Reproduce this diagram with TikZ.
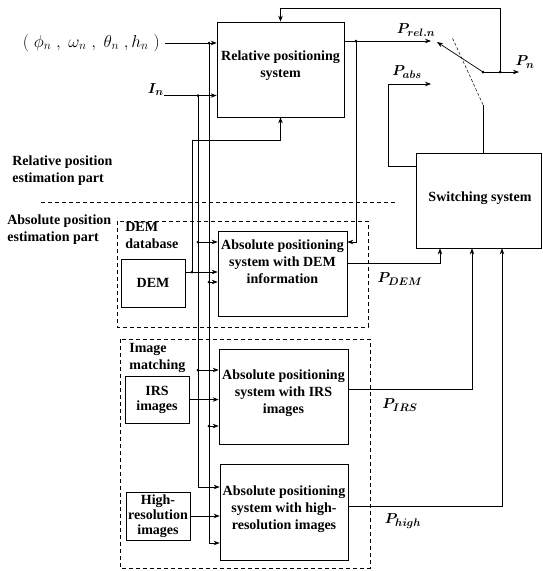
\documentclass[tikz,border=0pt]{standalone}
\usepackage{bm}
\usepackage{fontspec}
\setmainfont{Liberation Serif}
\usetikzlibrary{
  arrows.meta,
  positioning,
  calc
}

\begin{document}
\begin{tikzpicture}[x=1pt,y=-1pt,line width=0.7pt,
    sysbox/.style={draw,inner sep=0pt},
    boxtext/.style={align=center,inner sep=0pt,
      font=\bfseries\fontsize{14}{17}\selectfont},
    srcbox/.style={draw,align=center,inner sep=0pt,minimum width=64pt,
      minimum height=48pt,font=\bfseries\fontsize{14}{15}\selectfont},
    parttext/.style={align=left,inner sep=0pt,anchor=west,
      font=\bfseries\fontsize{14}{17}\selectfont},
    sig/.style={inner sep=0pt,font=\fontsize{15}{17}\selectfont},
    grpbox/.style={draw,dash pattern=on 4pt off 3pt,line width=0.6pt},
    arr/.style={-{Stealth[length=6pt,width=4.5pt]}},
    dot/.style={circle,fill,inner sep=0pt,minimum size=3pt}
  ]
  \useasboundingbox (0,0) rectangle (542,571);

  % systems
  \node[sysbox,minimum width=127pt,minimum height=95pt] (rel) at (280.5,69.5) {};
  \node[boxtext] (reltxt) at (280.5,66) {Relative positioning\\system};
  \node[sysbox,minimum width=125pt,minimum height=95pt] (sw) at (478.5,200.5) {};
  \node[boxtext] (swtxt) at (480,198) {Switching system};
  \node[sysbox,minimum width=129pt,minimum height=85pt] (demsys) at (282.5,273.5) {};
  \node[boxtext] (demtxt) at (282.5,262) {Absolute positioning\\system with DEM\\information};
  \node[sysbox,minimum width=129pt,minimum height=95pt] (irssys) at (283.5,396.5) {};
  \node[boxtext] (irstxt) at (283.5,393) {Absolute positioning\\system with IRS\\images};
  \node[sysbox,minimum width=128pt,minimum height=96pt] (hisys) at (284,512) {};
  \node[boxtext] (hitxt) at (284,509.5) {Absolute positioning\\system with high-\\resolution images};

  % sources
  \node[srcbox] (dem) at (153,283) {DEM};
  \node[srcbox,minimum height=47pt] (irs) at (157,399.5) {IRS\\images};
  \node[srcbox] (hri) at (158,516) {High-\\resolution\\images};

  % groups and parts
  \draw[grpbox] (117,221) rectangle (368,327);
  \draw[grpbox] (120,339) rectangle (370,568);
  \draw[dash pattern=on 4pt off 3pt,line width=0.6pt] (41,202) -- (395,202);
  \node[parttext] (relpart) at (12,171) {Relative position\\estimation part};
  \node[parttext] (abspart) at (7,230) {Absolute position\\estimation part};
  \node[parttext] (demdb) at (125,235) {DEM\\database};
  \node[parttext] (imgm) at (129,357.5) {Image\\matching};

  % inputs
  \node[sig,anchor=east,inner xsep=5pt,font=\fontsize{17}{19}\selectfont] (ang) at (165,43)
    {$(\;\phi_n\;,\;\omega_n\;,\;\theta_n\;,h_n\;)$};
  \node[sig,anchor=base east] (inten) at (164,93) {$\bm{I_n}$};
  \coordinate (phibus) at (209,0);
  \coordinate (inbus) at (198,0);
  \coordinate (dembus) at (192,0);
  \coordinate (relbus) at (356,0);

  \draw[arr] (ang.east) -- (ang.east -| rel.west);
  \draw[arr] (inten.south east) -- (inten.south east -| rel.west);
  \draw[arr] (ang.east -| phibus) node[dot] {} -- ([yshift=-31pt]hisys.west -| phibus)
    -- ([yshift=-31pt]hisys.west);
  \draw[arr] (inten.south east -| inbus) node[dot] {} -- ([yshift=25pt]hisys.west -| inbus)
    -- ([yshift=25pt]hisys.west);
  \draw[arr] ([yshift=31.5pt]demsys.west -| inbus) node[dot] {} -- ([yshift=31.5pt]demsys.west);
  \draw[arr] ([yshift=-8.5pt]demsys.west -| phibus) node[dot] {} -- ([yshift=-8.5pt]demsys.west);
  \draw[arr] ([yshift=26.5pt]irssys.west -| inbus) node[dot] {} -- ([yshift=26.5pt]irssys.west);
  \draw[arr] ([yshift=-29.5pt]irssys.west -| phibus) node[dot] {} -- ([yshift=-29.5pt]irssys.west);

  \draw[arr] ([yshift=11pt]dem.east) -- ([yshift=11pt]dem.east -| demsys.west);
  \draw[arr] ([yshift=11pt]dem.east -| dembus) node[dot] {} -- ++(0,-132) -| (rel.south);
  \draw[arr] (irs.east) -- (irs.east -| irssys.west);
  \draw[arr] (hri.east) -- (hri.east -| hisys.west);

  % switch
  \coordinate (relc) at (431,41);
  \coordinate (absc) at (431,84);
  \coordinate (pivot) at (483,72);
  \coordinate (armend) at (437,42);
  \coordinate (pout) at (519,72);
  \coordinate (fbx) at (500,72);
  \coordinate (lnkend) at (452,37);

  \draw[arr] ([yshift=28.5pt]rel.east) -- (relc);
  \draw[arr] ([yshift=28.5pt]rel.east -| relbus) node[dot] {} |- ([yshift=31.5pt]demsys.east);
  \draw[arr] (pivot) node[dot] {} -- (armend);
  \draw[arr] (pivot) -- (pout);
  \draw[arr] (fbx) node[dot] {} -- ++(0,-64) -| (rel.north);
  \draw (sw.north -| pivot) -- ++(0,-48) coordinate (lnk);
  \draw[dash pattern=on 3pt off 2pt,line width=0.5pt] (lnk) -- (lnkend);
  \draw[arr] ([yshift=34.5pt]sw.west) -- ++(-27,0) |- (absc);

  % outputs
  \draw[arr] ([yshift=10.5pt]demsys.east) -| ([xshift=-38.5pt]sw.south);
  \draw[arr] ([yshift=7.5pt]irssys.east) -| ([xshift=-6.5pt]sw.south);
  \draw[arr] ([yshift=6pt]hisys.east) -| ([xshift=23.5pt]sw.south);

  \node[sig] (prel) at (416,30) {$\bm{P_{rel.n}}$};
  \node[sig] (pabs) at (407,72) {$\bm{P_{abs}}$};
  \node[sig] (pn) at (525,62) {$\bm{P_n}$};
  \node[sig] (pdem) at (400,279) {$\bm{P_{DEM}}$};
  \node[sig] (pirs) at (400,405) {$\bm{P_{IRS}}$};
  \node[sig] (phigh) at (403,521) {$\bm{P_{high}}$};
\end{tikzpicture}
\end{document}
